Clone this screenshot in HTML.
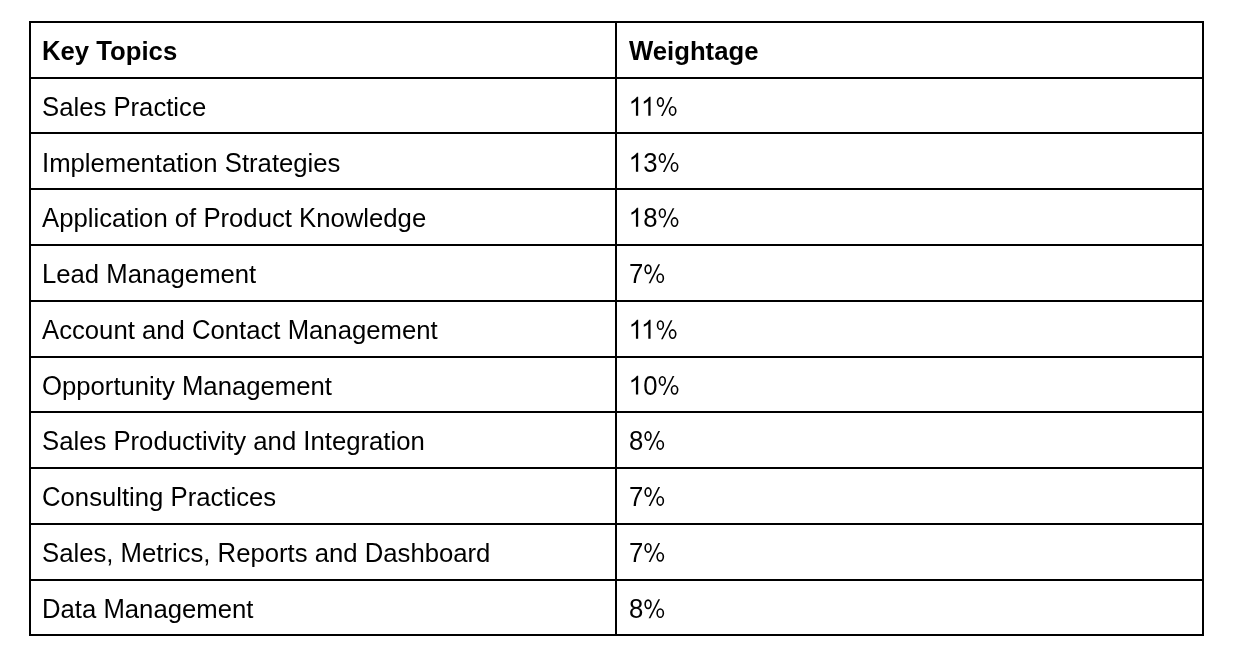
<!DOCTYPE html>
<html><head><meta charset="utf-8"><title>Key Topics</title><style>
html,body{margin:0;padding:0;background:#fff;}
body{width:1239px;height:670px;position:relative;overflow:hidden;font-family:"Liberation Sans",sans-serif;color:#000;}
.h{position:absolute;height:2px;background:#000;left:29px;width:1175px;}
.v{position:absolute;width:2px;background:#000;top:21px;height:615px;}
.t{position:absolute;white-space:nowrap;font-size:25.7px;line-height:0;height:0;transform-origin:0 0.3465em;transform:scaleY(1.03);will-change:transform;}
.b{font-weight:bold;}
.c{display:inline-block;transform-origin:0 0.3465em;transform:scaleY(1.05);}
.ph{color:transparent;}
.g{position:absolute;display:block;overflow:visible;fill:#000;}
</style></head><body>

<div class="h" style="top:21px"></div>
<div class="h" style="top:77px"></div>
<div class="h" style="top:132px"></div>
<div class="h" style="top:188px"></div>
<div class="h" style="top:244px"></div>
<div class="h" style="top:300px"></div>
<div class="h" style="top:356px"></div>
<div class="h" style="top:411px"></div>
<div class="h" style="top:467px"></div>
<div class="h" style="top:523px"></div>
<div class="h" style="top:579px"></div>
<div class="h" style="top:634px"></div>
<div class="v" style="left:29px"></div>
<div class="v" style="left:615px"></div>
<div class="v" style="left:1202px"></div>
<div class="t b" style="left:42.20px;top:51.09px"><span class="c">K</span>ey <span class="c" style="margin-right:-0.07422em">T</span>opics</div>
<div class="t b" style="left:628.60px;top:51.09px"><span class="c" style="margin-right:-0.01807em">W</span>eightage</div>
<div class="t" style="left:42.20px;top:106.79px"><span class="c">S</span>ales <span class="c">P</span>ractice</div>
<div class="t" style="left:628.60px;top:106.79px"><span class="ph" style="margin-right:-0.07422em">1</span><span class="ph">1</span><span class="ph">%</span></div>
<div class="t" style="left:42.20px;top:162.79px"><span class="c">I</span>mplementation <span class="c">S</span>trategies</div>
<div class="t" style="left:628.60px;top:162.79px"><span class="ph">1</span><span class="c">3</span><span class="ph">%</span></div>
<div class="t" style="left:42.20px;top:217.89px"><span class="c">A</span>pplication of <span class="c">P</span>roduct <span class="c">K</span>nowledge</div>
<div class="t" style="left:628.60px;top:217.89px"><span class="ph">1</span><span class="c">8</span><span class="ph">%</span></div>
<div class="t" style="left:42.20px;top:273.99px"><span class="c">L</span>ead <span class="c">M</span>anagement</div>
<div class="t" style="left:628.60px;top:273.99px"><span class="c">7</span><span class="ph">%</span></div>
<div class="t" style="left:42.20px;top:329.89px"><span class="c">A</span>ccount and <span class="c">C</span>ontact <span class="c">M</span>anagement</div>
<div class="t" style="left:628.60px;top:329.89px"><span class="ph" style="margin-right:-0.07422em">1</span><span class="ph">1</span><span class="ph">%</span></div>
<div class="t" style="left:42.20px;top:385.69px"><span class="c">O</span>pportunity <span class="c">M</span>anagement</div>
<div class="t" style="left:628.60px;top:385.69px"><span class="ph">1</span><span class="c">0</span><span class="ph">%</span></div>
<div class="t" style="left:42.20px;top:440.79px"><span class="c">S</span>ales <span class="c">P</span>roductivity and <span class="c">I</span>ntegration</div>
<div class="t" style="left:628.60px;top:440.79px"><span class="c">8</span><span class="ph">%</span></div>
<div class="t" style="left:42.20px;top:496.79px"><span class="c">C</span>onsulting <span class="c">P</span>ractices</div>
<div class="t" style="left:628.60px;top:496.79px"><span class="c">7</span><span class="ph">%</span></div>
<div class="t" style="left:42.20px;top:552.69px"><span class="c">S</span>ales, <span class="c">M</span>etrics, <span class="c">R</span>eports and <span class="c">D</span>ashboard</div>
<div class="t" style="left:628.60px;top:552.69px"><span class="c">7</span><span class="ph">%</span></div>
<div class="t" style="left:42.20px;top:608.99px"><span class="c">D</span>ata <span class="c">M</span>anagement</div>
<div class="t" style="left:628.60px;top:608.99px"><span class="c">8</span><span class="ph">%</span></div>
<svg class="g" style="left:627px;top:93px;width:14px;height:25px" viewBox="0 0 14 25"><path transform="translate(1.600,22.700) scale(0.012549,-0.012925)" d="M763,0L583,0L583,1147Q518,1085 420.5,1027.5Q323,970 223,933L223,1107Q391,1186 504,1287.5Q617,1389 663,1466L763,1466Z"/></svg>
<svg class="g" style="left:639px;top:93px;width:14px;height:25px" viewBox="0 0 14 25"><path transform="translate(1.986,22.700) scale(0.012549,-0.012925)" d="M763,0L583,0L583,1147Q518,1085 420.5,1027.5Q323,970 223,933L223,1107Q391,1186 504,1287.5Q617,1389 663,1466L763,1466Z"/></svg>
<svg class="g" style="left:654px;top:93px;width:26px;height:25px" viewBox="0 0 26 25"><g transform="translate(1.279,22.900)"><g fill="none" stroke="#000" stroke-width="1.60"><ellipse cx="5.16" cy="-13.85" rx="2.9" ry="4.15"/><ellipse cx="17.36" cy="-4.95" rx="3.1" ry="4.15"/></g><path d="M15.46,-18.8L17.16,-18.8L7.46,0.15L5.76,0.15Z"/></g></svg>
<svg class="g" style="left:627px;top:149px;width:14px;height:25px" viewBox="0 0 14 25"><path transform="translate(1.600,22.700) scale(0.012549,-0.012925)" d="M763,0L583,0L583,1147Q518,1085 420.5,1027.5Q323,970 223,933L223,1107Q391,1186 504,1287.5Q617,1389 663,1466L763,1466Z"/></svg>
<svg class="g" style="left:656px;top:149px;width:26px;height:25px" viewBox="0 0 26 25"><g transform="translate(1.186,22.900)"><g fill="none" stroke="#000" stroke-width="1.60"><ellipse cx="5.16" cy="-13.85" rx="2.9" ry="4.15"/><ellipse cx="17.36" cy="-4.95" rx="3.1" ry="4.15"/></g><path d="M15.46,-18.8L17.16,-18.8L7.46,0.15L5.76,0.15Z"/></g></svg>
<svg class="g" style="left:627px;top:204px;width:14px;height:25px" viewBox="0 0 14 25"><path transform="translate(1.600,22.800) scale(0.012549,-0.012925)" d="M763,0L583,0L583,1147Q518,1085 420.5,1027.5Q323,970 223,933L223,1107Q391,1186 504,1287.5Q617,1389 663,1466L763,1466Z"/></svg>
<svg class="g" style="left:656px;top:204px;width:26px;height:25px" viewBox="0 0 26 25"><g transform="translate(1.186,23.000)"><g fill="none" stroke="#000" stroke-width="1.60"><ellipse cx="5.16" cy="-13.85" rx="2.9" ry="4.15"/><ellipse cx="17.36" cy="-4.95" rx="3.1" ry="4.15"/></g><path d="M15.46,-18.8L17.16,-18.8L7.46,0.15L5.76,0.15Z"/></g></svg>
<svg class="g" style="left:641px;top:260px;width:26px;height:25px" viewBox="0 0 26 25"><g transform="translate(1.893,23.100)"><g fill="none" stroke="#000" stroke-width="1.60"><ellipse cx="5.16" cy="-13.85" rx="2.9" ry="4.15"/><ellipse cx="17.36" cy="-4.95" rx="3.1" ry="4.15"/></g><path d="M15.46,-18.8L17.16,-18.8L7.46,0.15L5.76,0.15Z"/></g></svg>
<svg class="g" style="left:627px;top:316px;width:14px;height:25px" viewBox="0 0 14 25"><path transform="translate(1.600,22.800) scale(0.012549,-0.012925)" d="M763,0L583,0L583,1147Q518,1085 420.5,1027.5Q323,970 223,933L223,1107Q391,1186 504,1287.5Q617,1389 663,1466L763,1466Z"/></svg>
<svg class="g" style="left:639px;top:316px;width:14px;height:25px" viewBox="0 0 14 25"><path transform="translate(1.986,22.800) scale(0.012549,-0.012925)" d="M763,0L583,0L583,1147Q518,1085 420.5,1027.5Q323,970 223,933L223,1107Q391,1186 504,1287.5Q617,1389 663,1466L763,1466Z"/></svg>
<svg class="g" style="left:654px;top:316px;width:26px;height:25px" viewBox="0 0 26 25"><g transform="translate(1.279,23.000)"><g fill="none" stroke="#000" stroke-width="1.60"><ellipse cx="5.16" cy="-13.85" rx="2.9" ry="4.15"/><ellipse cx="17.36" cy="-4.95" rx="3.1" ry="4.15"/></g><path d="M15.46,-18.8L17.16,-18.8L7.46,0.15L5.76,0.15Z"/></g></svg>
<svg class="g" style="left:627px;top:372px;width:14px;height:25px" viewBox="0 0 14 25"><path transform="translate(1.600,22.600) scale(0.012549,-0.012925)" d="M763,0L583,0L583,1147Q518,1085 420.5,1027.5Q323,970 223,933L223,1107Q391,1186 504,1287.5Q617,1389 663,1466L763,1466Z"/></svg>
<svg class="g" style="left:656px;top:372px;width:26px;height:25px" viewBox="0 0 26 25"><g transform="translate(1.186,22.800)"><g fill="none" stroke="#000" stroke-width="1.60"><ellipse cx="5.16" cy="-13.85" rx="2.9" ry="4.15"/><ellipse cx="17.36" cy="-4.95" rx="3.1" ry="4.15"/></g><path d="M15.46,-18.8L17.16,-18.8L7.46,0.15L5.76,0.15Z"/></g></svg>
<svg class="g" style="left:641px;top:427px;width:26px;height:25px" viewBox="0 0 26 25"><g transform="translate(1.893,22.900)"><g fill="none" stroke="#000" stroke-width="1.60"><ellipse cx="5.16" cy="-13.85" rx="2.9" ry="4.15"/><ellipse cx="17.36" cy="-4.95" rx="3.1" ry="4.15"/></g><path d="M15.46,-18.8L17.16,-18.8L7.46,0.15L5.76,0.15Z"/></g></svg>
<svg class="g" style="left:641px;top:483px;width:26px;height:25px" viewBox="0 0 26 25"><g transform="translate(1.893,22.900)"><g fill="none" stroke="#000" stroke-width="1.60"><ellipse cx="5.16" cy="-13.85" rx="2.9" ry="4.15"/><ellipse cx="17.36" cy="-4.95" rx="3.1" ry="4.15"/></g><path d="M15.46,-18.8L17.16,-18.8L7.46,0.15L5.76,0.15Z"/></g></svg>
<svg class="g" style="left:641px;top:539px;width:26px;height:25px" viewBox="0 0 26 25"><g transform="translate(1.893,22.800)"><g fill="none" stroke="#000" stroke-width="1.60"><ellipse cx="5.16" cy="-13.85" rx="2.9" ry="4.15"/><ellipse cx="17.36" cy="-4.95" rx="3.1" ry="4.15"/></g><path d="M15.46,-18.8L17.16,-18.8L7.46,0.15L5.76,0.15Z"/></g></svg>
<svg class="g" style="left:641px;top:595px;width:26px;height:25px" viewBox="0 0 26 25"><g transform="translate(1.893,23.100)"><g fill="none" stroke="#000" stroke-width="1.60"><ellipse cx="5.16" cy="-13.85" rx="2.9" ry="4.15"/><ellipse cx="17.36" cy="-4.95" rx="3.1" ry="4.15"/></g><path d="M15.46,-18.8L17.16,-18.8L7.46,0.15L5.76,0.15Z"/></g></svg>
</body></html>
